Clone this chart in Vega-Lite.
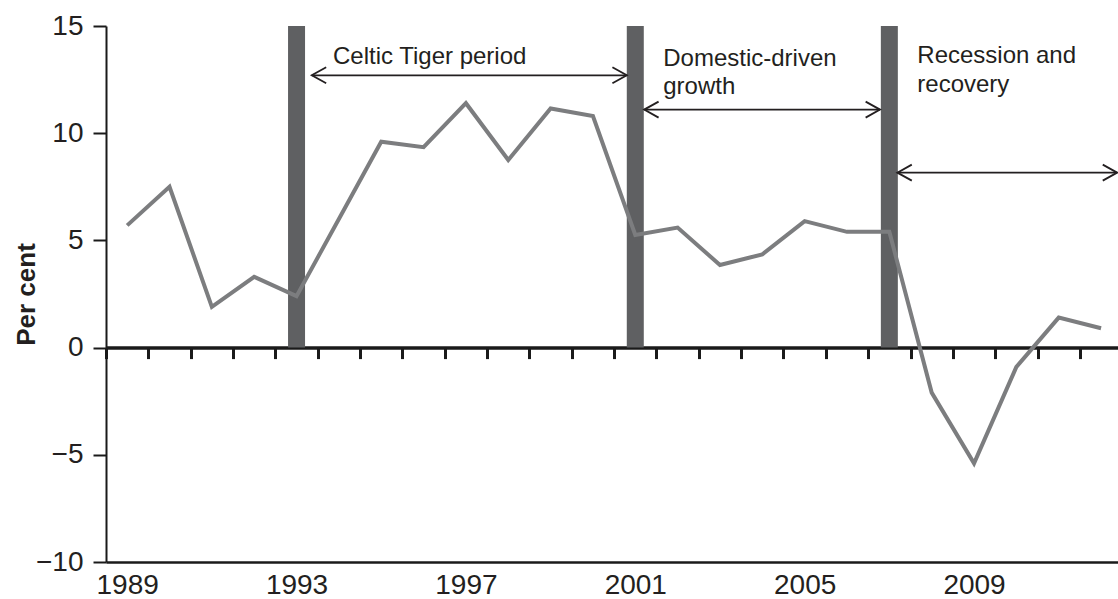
{
  "$schema": "https://vega.github.io/schema/vega-lite/v6.json",
  "width": 1012,
  "height": 536,
  "autosize": "none",
  "padding": {"left": 106, "top": 26, "right": 0, "bottom": 37},
  "background": "white",
  "config": {
    "view": {"stroke": null},
    "font": "Liberation Sans"
  },
  "resolve": {"axis": {"x": "independent"}},
  "layer": [
    {
      "data": {"values": [{"year": 1993, "v": 15}, {"year": 2001, "v": 15}, {"year": 2007, "v": 15}]},
      "mark": {"type": "bar", "size": 17, "color": "#5f6062"},
      "encoding": {
        "x": {
          "field": "year", "type": "quantitative",
          "scale": {"domain": [1988.5, 2012.4], "nice": false, "zero": false, "padding": 0},
          "axis": {
            "orient": "bottom", "offset": -214.4,
            "values": [1988.5, 1989.5, 1990.5, 1991.5, 1992.5, 1993.5, 1994.5, 1995.5, 1996.5, 1997.5, 1998.5, 1999.5, 2000.5, 2001.5, 2002.5, 2003.5, 2004.5, 2005.5, 2006.5, 2007.5, 2008.5, 2009.5, 2010.5, 2011.5],
            "labels": false, "tickSize": 11, "tickWidth": 3, "tickColor": "#1a1a1a",
            "domainWidth": 3.5, "domainColor": "#1a1a1a", "grid": false, "title": null
          }
        },
        "y": {"field": "v", "type": "quantitative", "title": "Per cent", "scale": {"domain": [-10, 15], "nice": false, "zero": false}},
        "y2": {"datum": 0}
      }
    },
    {
      "data": {"values": [
        {"year": 1989, "v": 5.7}, {"year": 1990, "v": 7.5}, {"year": 1991, "v": 1.9}, {"year": 1992, "v": 3.3},
        {"year": 1993, "v": 2.4}, {"year": 1994, "v": 6.0}, {"year": 1995, "v": 9.6}, {"year": 1996, "v": 9.35},
        {"year": 1997, "v": 11.4}, {"year": 1998, "v": 8.75}, {"year": 1999, "v": 11.15}, {"year": 2000, "v": 10.8},
        {"year": 2001, "v": 5.25}, {"year": 2002, "v": 5.6}, {"year": 2003, "v": 3.85}, {"year": 2004, "v": 4.35},
        {"year": 2005, "v": 5.9}, {"year": 2006, "v": 5.4}, {"year": 2007, "v": 5.4}, {"year": 2008, "v": -2.1},
        {"year": 2009, "v": -5.4}, {"year": 2010, "v": -0.9}, {"year": 2011, "v": 1.4}, {"year": 2012, "v": 0.9}
      ]},
      "mark": {"type": "line", "color": "#7c7d7f", "strokeWidth": 4, "strokeJoin": "miter"},
      "encoding": {
        "x": {
          "field": "year", "type": "quantitative",
          "scale": {"domain": [1988.5, 2012.4], "nice": false, "zero": false, "padding": 0},
          "axis": {
            "orient": "bottom", "values": [1989, 1993, 1997, 2001, 2005, 2009], "format": "d",
            "tickSize": 0, "labelPadding": 9, "labelFontSize": 28, "labelColor": "#231f20",
            "labelFlush": false, "labelOverlap": false,
            "domainWidth": 2.5, "domainColor": "#1a1a1a", "grid": false, "title": null
          }
        },
        "y": {
          "field": "v", "type": "quantitative", "title": "Per cent",
          "scale": {"domain": [-10, 15], "nice": false, "zero": false},
          "axis": {
            "values": [-10, -5, 0, 5, 10, 15],
            "labelFontSize": 28, "labelColor": "#231f20", "labelPadding": 10, "labelFlush": false,
            "tickSize": 13, "tickWidth": 2, "tickColor": "#1a1a1a",
            "domainWidth": 2, "domainColor": "#1a1a1a", "grid": false,
            "titleFontSize": 26, "titleFontWeight": "bold", "titleColor": "#231f20", "titlePadding": -4
          }
        }
      }
    },
    {
      "data": {"values": [
        {"year": 1993.36, "year2": 2000.8, "v": 12.7},
        {"year": 2001.21, "year2": 2006.78, "v": 11.1},
        {"year": 2007.19, "year2": 2012.38, "v": 8.16}
      ]},
      "mark": {"type": "rule", "color": "#231f20", "strokeWidth": 1.8},
      "encoding": {
        "x": {"field": "year", "type": "quantitative", "axis": null, "scale": {"domain": [1988.5, 2012.4], "nice": false, "zero": false, "padding": 0}},
        "x2": {"field": "year2"},
        "y": {"field": "v", "type": "quantitative", "title": "Per cent", "scale": {"domain": [-10, 15], "nice": false, "zero": false}}
      }
    },
    {
      "data": {"values": [
        {"year": 1993.36, "year2": 2000.8, "v": 12.7},
        {"year": 2001.21, "year2": 2006.78, "v": 11.1},
        {"year": 2007.19, "year2": 2012.38, "v": 8.16}
      ]},
      "transform": [{"fold": ["year", "year2"], "as": ["end", "yr"]}],
      "mark": {"type": "point", "filled": false, "color": "#231f20", "strokeWidth": 1.8, "size": 256, "opacity": 1},
      "encoding": {
        "x": {"field": "yr", "type": "quantitative", "axis": null, "scale": {"domain": [1988.5, 2012.4], "nice": false, "zero": false, "padding": 0}},
        "y": {"field": "v", "type": "quantitative", "title": "Per cent", "scale": {"domain": [-10, 15], "nice": false, "zero": false}},
        "shape": {
          "field": "end", "type": "nominal", "legend": null,
          "scale": {"domain": ["year", "year2"], "range": ["M1.8,-1L0,0L1.8,1", "M-1.8,-1L0,0L-1.8,1"]}
        }
      }
    },
    {
      "data": {"values": [
        {"label": "Celtic Tiger period", "year": 1993.86, "v": 13.25},
        {"label": "Domestic-driven", "year": 2001.66, "v": 13.15},
        {"label": "growth", "year": 2001.66, "v": 11.85},
        {"label": "Recession and", "year": 2007.66, "v": 13.29},
        {"label": "recovery", "year": 2007.66, "v": 11.9}
      ]},
      "mark": {"type": "text", "align": "left", "baseline": "alphabetic", "fontSize": 24, "color": "#231f20"},
      "encoding": {
        "x": {"field": "year", "type": "quantitative", "axis": null, "scale": {"domain": [1988.5, 2012.4], "nice": false, "zero": false, "padding": 0}},
        "y": {"field": "v", "type": "quantitative", "title": "Per cent", "scale": {"domain": [-10, 15], "nice": false, "zero": false}},
        "text": {"field": "label", "type": "nominal"}
      }
    }
  ]
}
